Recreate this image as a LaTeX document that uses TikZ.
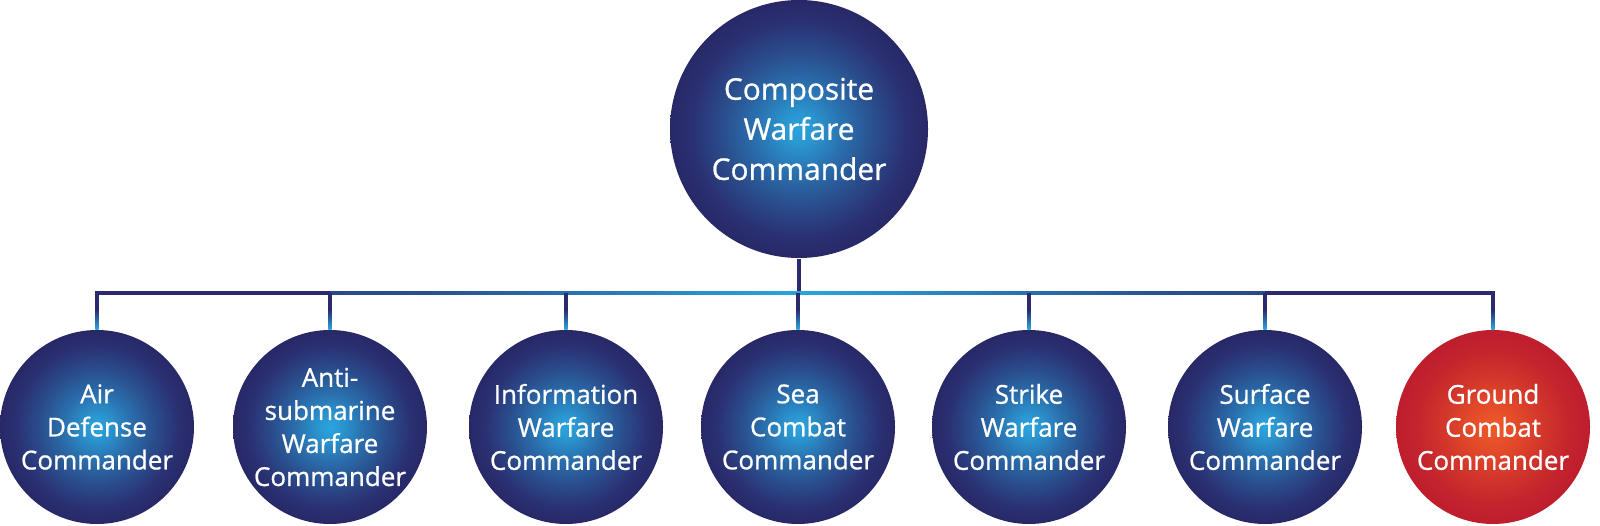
\documentclass[tikz,border=0pt]{standalone}
\usepackage{fontspec}
\setmainfont{Open Sans}[FakeBold=0.8]
\usetikzlibrary{calc}

\definecolor{cwnavy}{HTML}{2A2A6C}
\definecolor{glowblue}{HTML}{2AA5DF}
\definecolor{cwred}{HTML}{BE1E2D}
\definecolor{gloworange}{HTML}{F05A28}

\pgfdeclareradialshading{navyglow}{\pgfpoint{0bp}{0bp}}{%
  color(0bp)=(glowblue); color(3bp)=(glowblue!88!cwnavy);
  color(9bp)=(glowblue!55!cwnavy); color(15bp)=(glowblue!28!cwnavy);
  color(21bp)=(glowblue!5!cwnavy); color(25bp)=(cwnavy!95!black); color(50bp)=(cwnavy!95!black)}
\pgfdeclareradialshading{redglow}{\pgfpoint{0bp}{0bp}}{%
  color(0bp)=(gloworange); color(6bp)=(gloworange!75!cwred);
  color(13bp)=(gloworange!40!cwred); color(20bp)=(gloworange!10!cwred);
  color(25bp)=(cwred); color(50bp)=(cwred)}
\pgfdeclarehorizontalshading{busglow}{100bp}{%
  color(0bp)=(cwnavy); color(30bp)=(cwnavy!70!glowblue);
  color(50bp)=(glowblue); color(70bp)=(cwnavy!70!glowblue);
  color(100bp)=(cwnavy)}

\begin{document}
\begin{tikzpicture}[
  chief/.style={circle, minimum size=2.58cm, inner sep=0pt, shade, shading=navyglow,
    text=white, align=center, font=\fontsize{8.5}{11.4}\selectfont},
  cmdr/.style={circle, minimum size=1.94cm, inner sep=0pt, shade, shading=navyglow,
    text=white, align=center, font=\fontsize{7.4}{9.4}\selectfont},
  link/.style={cwnavy, line width=.9pt}]
\useasboundingbox (0,0) rectangle (16,5.25);

\node[chief] (cwc) at (7.99,3.96) {Composite\\Warfare\\Commander};

\node[cmdr] (adc) at (0.97,0.98) {Air\\Defense\\Commander};
\node[cmdr] (asw) at (3.30,0.98) {Anti-\\submarine\\Warfare\\Commander};
\node[cmdr] (iwc) at (5.66,0.98) {Information\\Warfare\\Commander};
\node[cmdr] (scc) at (7.98,0.98) {Sea\\Combat\\Commander};
\node[cmdr] (stw) at (10.29,0.98) {Strike\\Warfare\\Commander};
\node[cmdr] (suw) at (12.65,0.98) {Surface\\Warfare\\Commander};
\node[cmdr, shading=redglow] (gcc) at (14.93,0.98) {Ground\\Combat\\Commander};

\coordinate (bus) at (7.99,2.32);

% main bus
\draw[link] (cwc.south) -- (cwc.south |- bus);
\draw[link] (adc.north) -- (adc.north |- bus) -- (gcc.north |- bus) -- (gcc.north);
\shade[shading=busglow] ($(asw.north |- bus)+(0,-.45pt)$) rectangle ($(suw.north |- bus)+(0,.45pt)$);

% drops to each commander
\foreach \n in {adc,asw,iwc,scc,stw,suw,gcc}{
  \draw[link] (\n.north |- bus) -- (\n.north);
  \shade[top color=cwnavy, bottom color=glowblue]
    ($($(\n.north |- bus)!.45!(\n.north)$)+(-.45pt,0)$) rectangle ($(\n.north)+(.45pt,0)$);
}
\end{tikzpicture}
\end{document}
